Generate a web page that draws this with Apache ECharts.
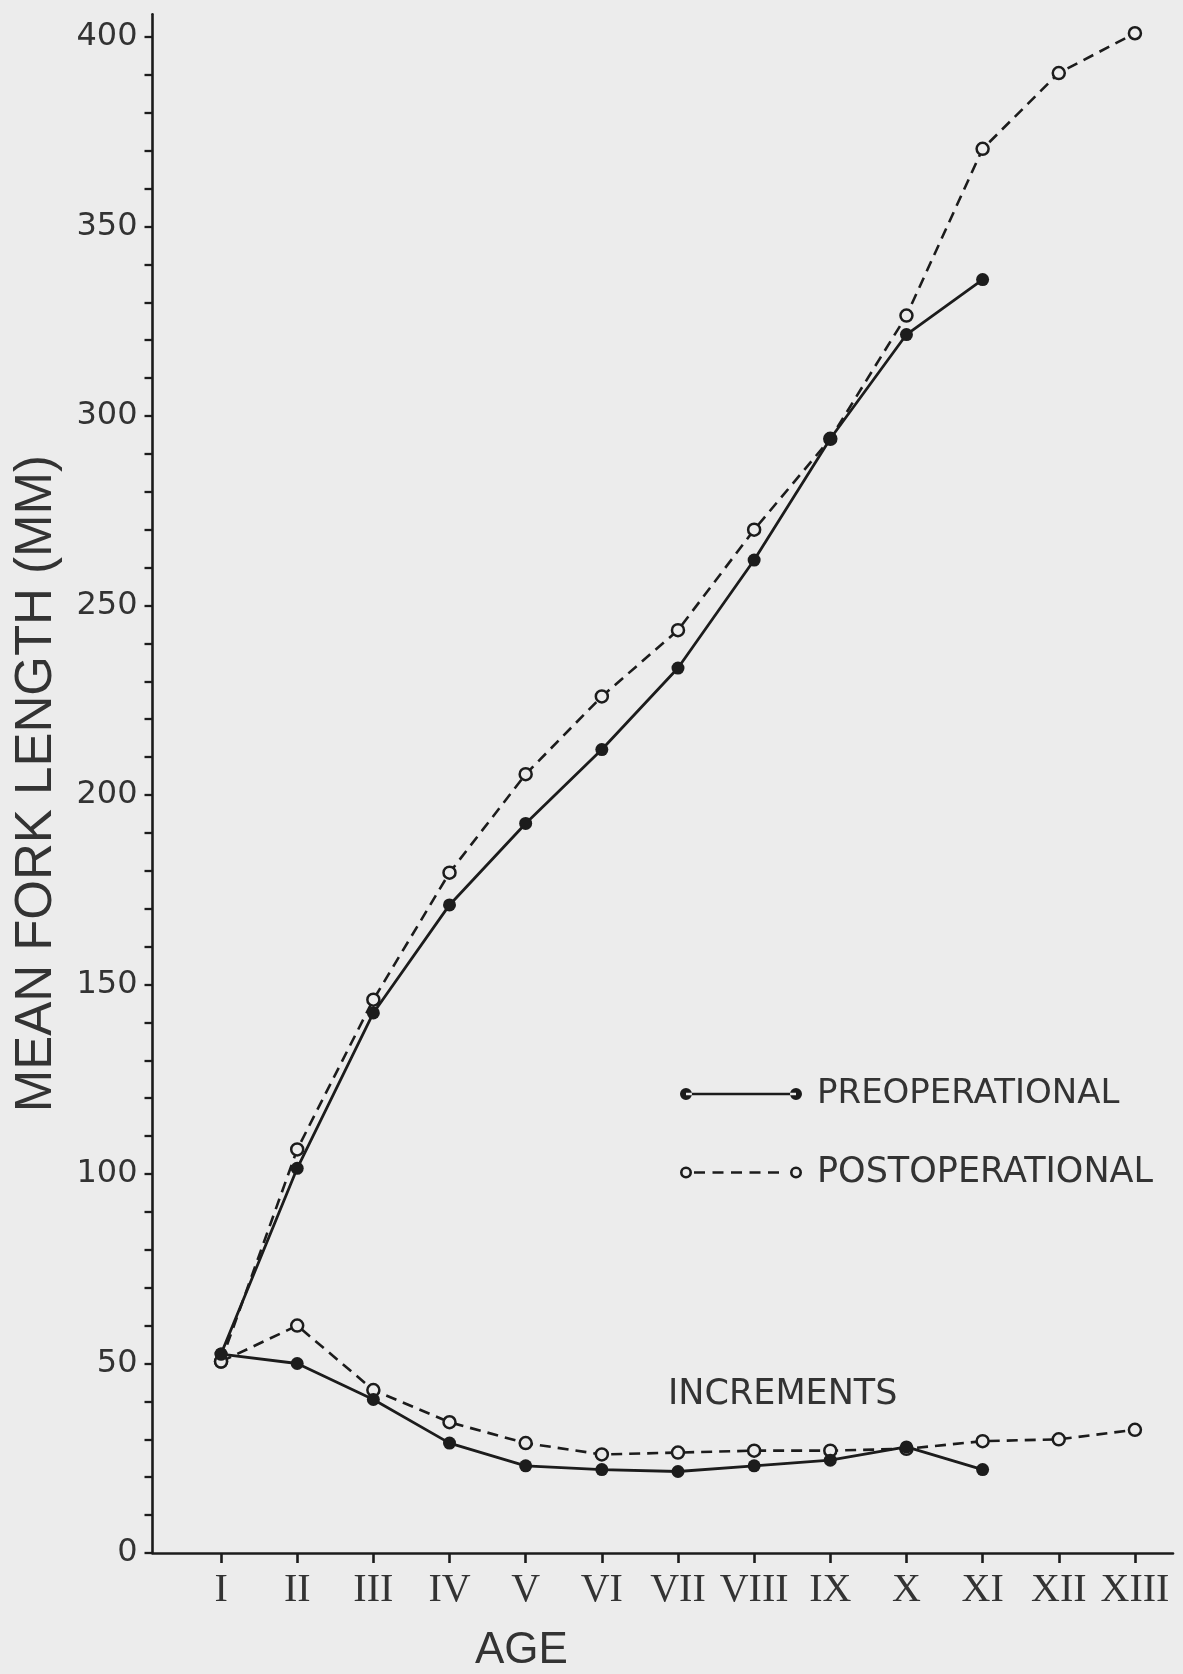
<!DOCTYPE html>
<html>
<head>
<meta charset="utf-8">
<script src="https://cdn.jsdelivr.net/npm/echarts@6/dist/echarts.min.js"></script>
<style>
  html, body { margin: 0; padding: 0; background: #ececec; }
  #chart { width: 1183px; height: 1674px; }
</style>
</head>
<body>
<div id="chart"></div>
<script>
// ---- data ----
const ages = [1, 2, 3, 4, 5, 6, 7, 8, 9, 10, 11, 12, 13];
const ageLabels = ['I', 'II', 'III', 'IV', 'V', 'VI', 'VII', 'VIII', 'IX', 'X', 'XI', 'XII', 'XIII'];
const preopLength = [52.5, 101.5, 142.5, 171, 192.5, 212, 233.5, 262, 294, 321.5, 336];
const postopLength = [50.5, 106.5, 146, 179.5, 205.5, 226, 243.5, 270, 294, 326.5, 370.5, 390.5, 401];
const preopIncrement = [52.5, 50, 40.5, 29, 23, 22, 21.5, 23, 24.5, 28, 22];
const postopIncrement = [50.5, 60, 43, 34.5, 29, 26, 26.5, 27, 27, 27.5, 29.5, 30, 32.5];
const yLabelValues = [0, 50, 100, 150, 200, 250, 300, 350, 400];
const yTickValues = [0, 10, 20, 30, 40, 50, 60, 70, 80, 90, 100, 110, 120, 130, 140, 150, 160, 170, 180, 190, 200, 210, 220, 230, 240, 250, 260, 270, 280, 290, 300, 310, 320, 330, 340, 350, 360, 370, 380, 390, 400];

const INK = '#1c1c1c';
const TEXT = '#333333';
const BG = '#ececec';

function pairs(vals) { return vals.map((v, i) => [ages[i], v]); }

const preIcon = 'path://M0,6 a6,6 0 1,0 12,0 a6,6 0 1,0 -12,0 Z M110,6 a6,6 0 1,0 12,0 a6,6 0 1,0 -12,0 Z M6,4.8 L116,4.8 L116,7.2 L6,7.2 Z';
const postIcon = 'path://M0,6 a6,6 0 1,0 12,0 a6,6 0 1,0 -12,0 Z M2.6,6 a3.4,3.4 0 1,1 6.8,0 a3.4,3.4 0 1,1 -6.8,0 Z ' +
  'M110,6 a6,6 0 1,0 12,0 a6,6 0 1,0 -12,0 Z M112.6,6 a3.4,3.4 0 1,1 6.8,0 a3.4,3.4 0 1,1 -6.8,0 Z ' +
  'M14,4.8 L25,4.8 L25,7.2 L14,7.2 Z M32.5,4.8 L43.5,4.8 L43.5,7.2 L32.5,7.2 Z M51,4.8 L62,4.8 L62,7.2 L51,7.2 Z M69.5,4.8 L80.5,4.8 L80.5,7.2 L69.5,7.2 Z M88,4.8 L99,4.8 L99,7.2 L88,7.2 Z';

const chart = echarts.init(document.getElementById('chart'), null, { renderer: 'canvas' });

const preLine = { color: INK, width: 2.8, type: 'solid' };
const postLine = { color: INK, width: 2.6, type: [11, 7] };
const preItem = { color: INK, borderWidth: 0 };
const postItem = { color: BG, borderColor: INK, borderWidth: 2.5 };

chart.setOption({
  backgroundColor: BG,
  animation: false,
  grid: {
    left: 152.5, right: 10, top: 14.3, bottom: 121,
    containLabel: false, outerBoundsMode: 'none'
  },
  title: [
    {
      text: 'AGE', left: 475, top: 1629, padding: 0,
      textStyle: { fontFamily: 'Liberation Sans', fontSize: 44, fontWeight: 'normal', color: TEXT }
    },
    {
      text: 'INCREMENTS', left: 668, top: 1377, padding: 0,
      textStyle: { fontFamily: 'DejaVu Sans', fontSize: 35, fontWeight: 'normal', color: TEXT }
    }
  ],
  legend: [
    {
      data: [{ name: 'PREOPERATIONAL', icon: preIcon, itemStyle: { color: INK, borderWidth: 0 } }],
      left: 680, top: 1077, padding: 0, itemWidth: 122, itemHeight: 12,
      selectedMode: false, orient: 'horizontal',
      textStyle: { fontFamily: 'DejaVu Sans', fontSize: 34, color: TEXT, padding: [0, 0, 0, 10] }
    },
    {
      data: [{ name: 'POSTOPERATIONAL', icon: postIcon, itemStyle: { color: INK, borderWidth: 0 } }],
      left: 680, top: 1155, padding: 0, itemWidth: 122, itemHeight: 12,
      selectedMode: false, orient: 'horizontal',
      textStyle: { fontFamily: 'DejaVu Sans', fontSize: 35, color: TEXT, padding: [0, 0, 0, 10] }
    }
  ],
  xAxis: {
    type: 'value', min: 0.1, max: 13.5,
    splitLine: { show: false },
    axisLine: { show: true, onZero: false, lineStyle: { color: INK, width: 2.6 } },
    axisTick: { show: true, customValues: ages, length: 10, lineStyle: { color: INK, width: 2.6 } },
    axisLabel: {
      customValues: ages, margin: 17,
      formatter: v => ageLabels[Math.round(v) - 1] || '',
      fontFamily: 'Liberation Serif', fontSize: 40, color: TEXT
    }
  },
  yAxis: {
    type: 'value', min: 0, max: 406,
    name: 'MEAN FORK LENGTH (MM)', nameLocation: 'middle', nameRotate: 90, nameGap: 90,
    nameTextStyle: { fontFamily: 'Liberation Sans', fontSize: 51, color: TEXT },
    splitLine: { show: false },
    axisLine: { show: true, onZero: false, lineStyle: { color: INK, width: 2.6 } },
    axisTick: { show: true, customValues: yTickValues, length: 8, lineStyle: { color: INK, width: 2.3 } },
    axisLabel: {
      customValues: yLabelValues, margin: 15,
      fontFamily: 'DejaVu Sans', fontSize: 32, color: TEXT
    }
  },
  series: [
    {
      name: 'POSTOPERATIONAL', type: 'line', data: pairs(postopLength),
      symbol: 'circle', symbolSize: 12, showSymbol: true,
      lineStyle: postLine, itemStyle: postItem, z: 2
    },
    {
      name: 'POSTOPERATIONAL', type: 'line', data: pairs(postopIncrement),
      symbol: 'circle', symbolSize: 12, showSymbol: true,
      lineStyle: postLine, itemStyle: postItem, z: 2
    },
    {
      name: 'PREOPERATIONAL', type: 'line', data: pairs(preopLength),
      symbol: 'circle', symbolSize: 13, showSymbol: true,
      lineStyle: preLine, itemStyle: preItem, z: 3
    },
    {
      name: 'PREOPERATIONAL', type: 'line', data: pairs(preopIncrement),
      symbol: 'circle', symbolSize: 13, showSymbol: true,
      lineStyle: preLine, itemStyle: preItem, z: 3
    }
  ]
});
</script>
</body>
</html>
